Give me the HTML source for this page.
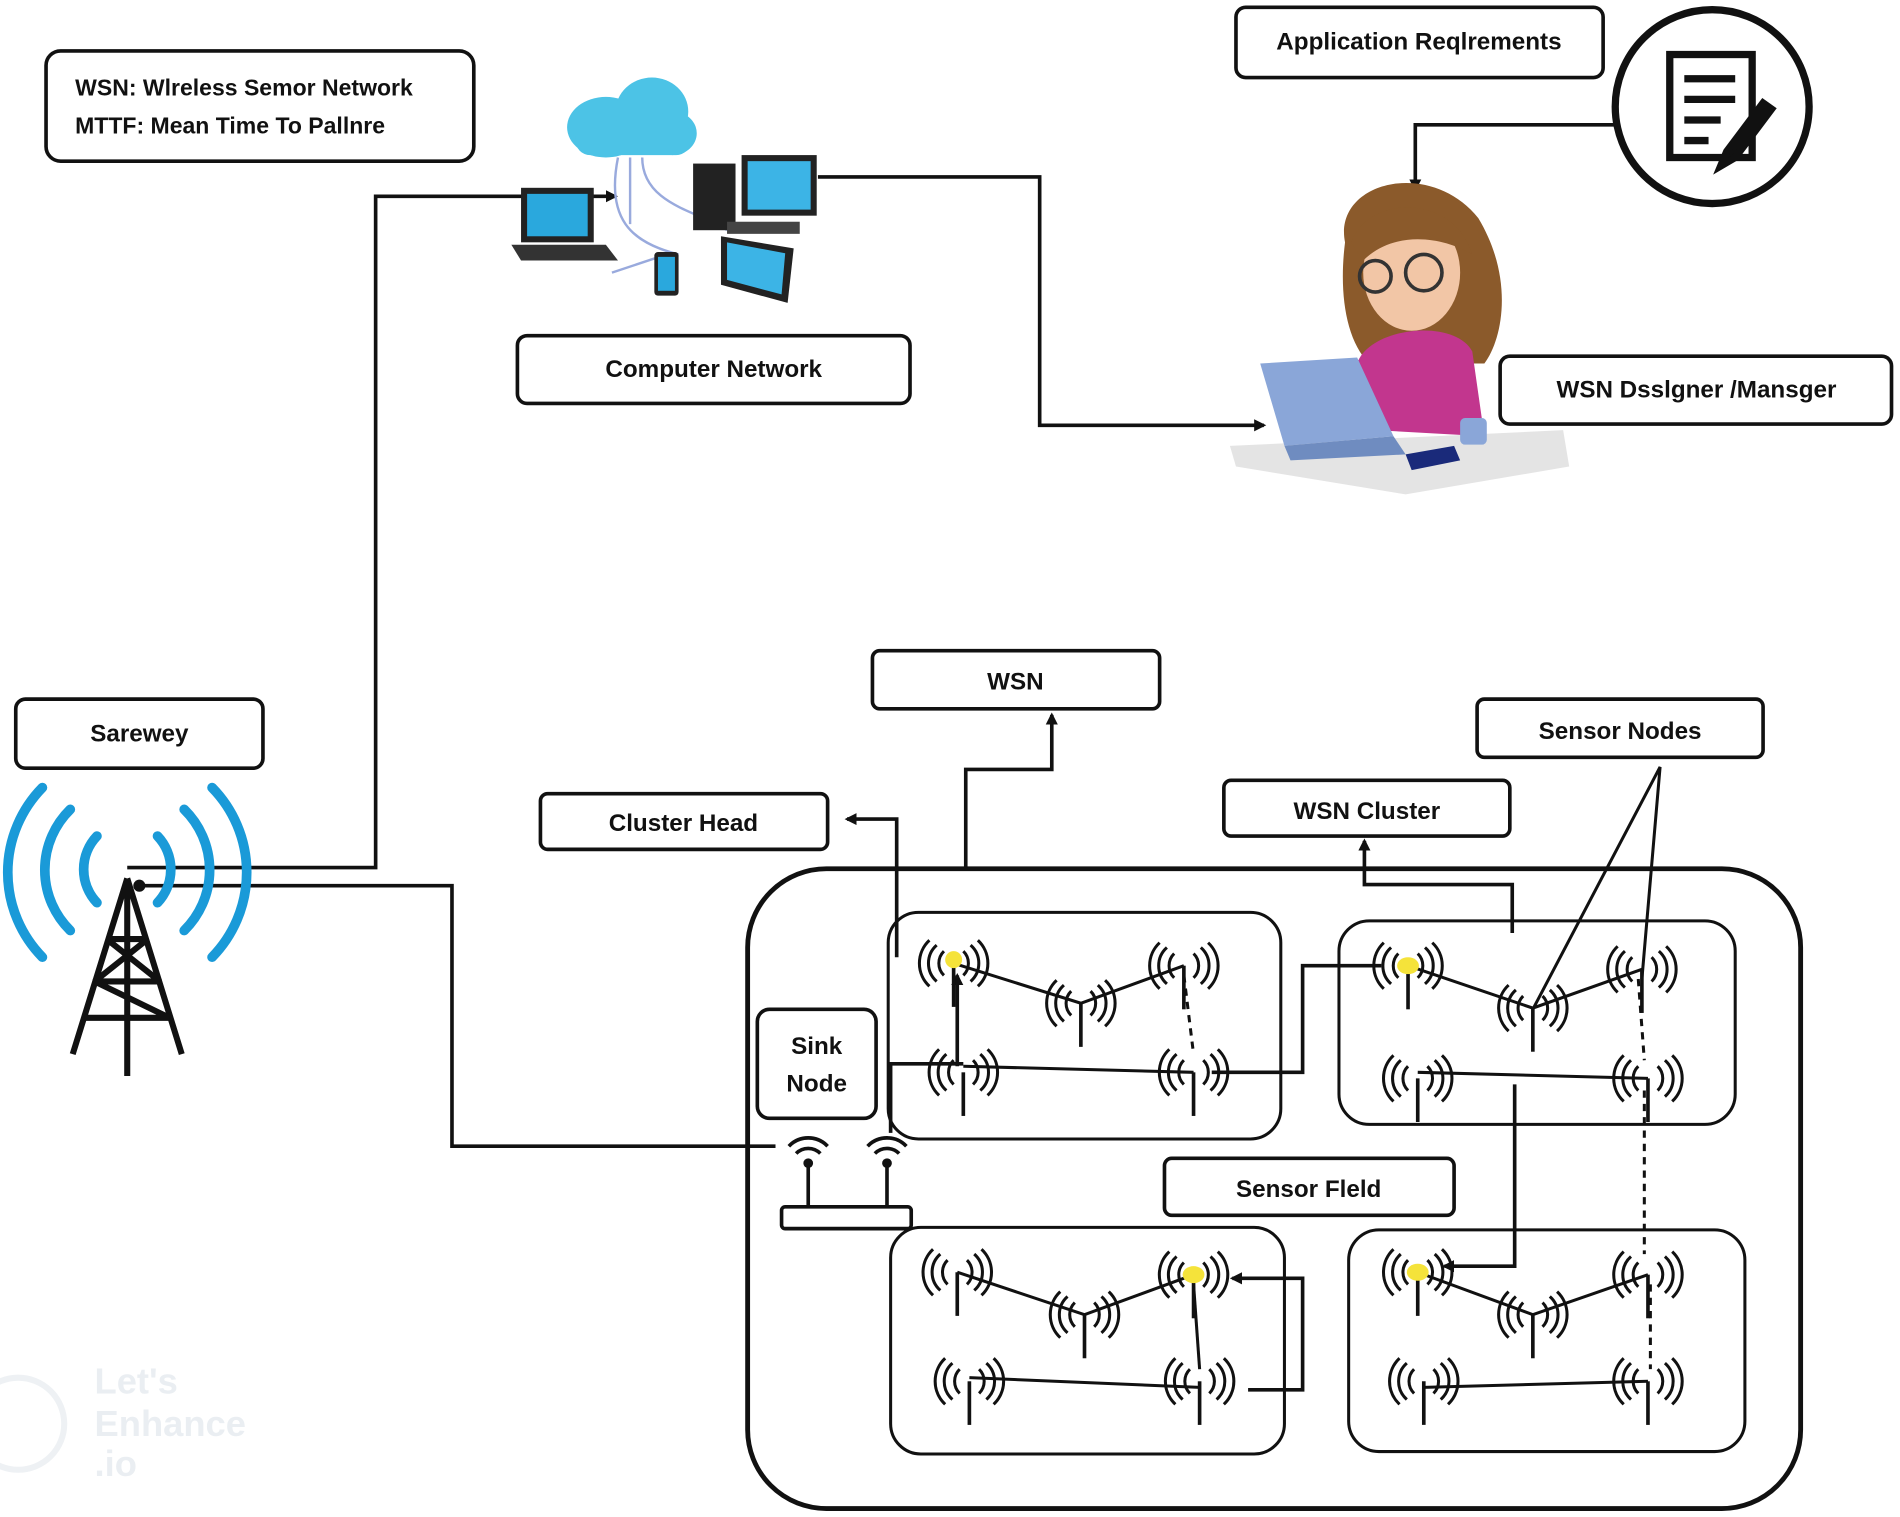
<!DOCTYPE html>
<html><head><meta charset="utf-8"><style>
html,body{margin:0;padding:0;background:#fff;}
svg{display:block}
text{font-family:"Liberation Sans",sans-serif;font-weight:bold;fill:#111;}
</style></head><body>
<svg width="1900" height="1517" viewBox="0 0 1568 1252" preserveAspectRatio="none" xmlns="http://www.w3.org/2000/svg">
<defs>
<marker id="ar" markerWidth="10" markerHeight="10" refX="8" refY="5" orient="auto" markerUnits="userSpaceOnUse"><path d="M0,0 L10,5 L0,10 z" fill="#111"/></marker>
<g id="sn">
<line x1="0" y1="0" x2="0" y2="36" stroke="#111" stroke-width="3"/>
<path d="M-8,-10 A14,14 0 0 0 -8,10 M-14,-15 A20,20 0 0 0 -14,15 M-20,-19 A26,26 0 0 0 -20,19" fill="none" stroke="#111" stroke-width="2.5"/>
<path d="M8,-10 A14,14 0 0 1 8,10 M14,-15 A20,20 0 0 1 14,15 M20,-19 A26,26 0 0 1 20,19" fill="none" stroke="#111" stroke-width="2.5"/>
</g>
</defs>
<rect width="1568" height="1252" fill="#fff"/>
<g fill="none" stroke="#111" stroke-width="3">
<rect x="38" y="42" width="353" height="91" rx="12"/>
<rect x="1020" y="6" width="303" height="58" rx="8"/>
<circle cx="1413" cy="88" r="80" stroke-width="6"/>
<rect x="427" y="277" width="324" height="56" rx="8"/>
<rect x="1238" y="294" width="323" height="56" rx="8"/>
<rect x="13" y="577" width="204" height="57" rx="8"/>
<rect x="720" y="537" width="237" height="48" rx="6"/>
<rect x="446" y="655" width="237" height="46" rx="6"/>
<rect x="1010" y="644" width="236" height="46" rx="6"/>
<rect x="1219" y="577" width="236" height="48" rx="6"/>
<rect x="617" y="717" width="869" height="528" rx="65" stroke-width="4"/>
<rect x="733" y="753" width="324" height="187" rx="25" stroke-width="2.5"/>
<rect x="1105" y="760" width="327" height="168" rx="25" stroke-width="2.5"/>
<rect x="735" y="1013" width="325" height="187" rx="25" stroke-width="2.5"/>
<rect x="1113" y="1015" width="327" height="183" rx="25" stroke-width="2.5"/>
<rect x="625" y="833" width="98" height="90" rx="10"/>
<rect x="961" y="956" width="239" height="47" rx="6"/>
</g>
<!-- connectors -->
<g fill="none" stroke="#111" stroke-width="3">
<path d="M1335,103 H1168 V156" marker-end="url(#ar)"/>
<path d="M675,146 H858 V351 H1043" marker-end="url(#ar)"/>
<path d="M105,716 H310 V162 H508" marker-end="url(#ar)"/>
<path d="M115,731 H373 V946 H640"/>
<path d="M797,716 V635 H868 V590" marker-end="url(#ar)"/>
<path d="M740,790 V676 H699" marker-end="url(#ar)"/>
<path d="M1248,770 V730 H1126 V694" marker-end="url(#ar)"/>
<path d="M1265,833 L1370,633 L1355,808" stroke-width="2.5"/>
<path d="M735,935 V878 H795" />
<path d="M790,880 V805" marker-end="url(#ar)"/>
<path d="M1000,885 H1075 V797 H1140"/>
<path d="M1250,895 V1045 H1192" marker-end="url(#ar)"/>
<path d="M1030,1147 H1075 V1055 H1017" marker-end="url(#ar)"/>
</g>
<g fill="none" stroke="#111" stroke-width="2.5">
<path d="M787,795 L892,828 L977,797"/><path d="M795,880 L985,885"/>
<path d="M1162,797 L1265,832 L1355,800"/><path d="M1170,885 L1360,890"/>
<path d="M790,1050 L895,1085 L985,1052"/><path d="M800,1137 L990,1145"/>
<path d="M1170,1050 L1265,1085 L1360,1052"/><path d="M1175,1145 L1360,1140"/>
<path d="M977,805 L985,870" stroke-dasharray="6,5"/>
<path d="M1352,808 L1357,875" stroke-dasharray="6,5"/>
<path d="M1357,900 V1035 M1362,1060 V1130" stroke-dasharray="6,5"/>
<path d="M985,1060 L990,1130"/>
</g>
<!-- sensor nodes -->
<g>
<use href="#sn" x="787" y="795"/><use href="#sn" x="892" y="828"/><use href="#sn" x="977" y="797"/><use href="#sn" x="795" y="885"/><use href="#sn" x="985" y="885"/>
<use href="#sn" x="1162" y="797"/><use href="#sn" x="1265" y="832"/><use href="#sn" x="1355" y="800"/><use href="#sn" x="1170" y="890"/><use href="#sn" x="1360" y="890"/>
<use href="#sn" x="790" y="1050"/><use href="#sn" x="895" y="1085"/><use href="#sn" x="985" y="1052"/><use href="#sn" x="800" y="1140"/><use href="#sn" x="990" y="1140"/>
<use href="#sn" x="1170" y="1050"/><use href="#sn" x="1265" y="1085"/><use href="#sn" x="1360" y="1052"/><use href="#sn" x="1175" y="1140"/><use href="#sn" x="1360" y="1140"/>
</g>
<g fill="#f5e33a"><circle cx="787" cy="792" r="7"/><ellipse cx="1162" cy="797" rx="9" ry="7"/><ellipse cx="985" cy="1052" rx="9" ry="7"/><ellipse cx="1170" cy="1050" rx="9" ry="7"/></g>
<!-- router -->
<g stroke="#111" fill="none" stroke-width="3">
<rect x="645" y="996" width="107" height="18" rx="3" fill="#fff"/>
<line x1="667" y1="996" x2="667" y2="960"/><line x1="732" y1="996" x2="732" y2="960"/>
<path d="M657,952 A14,14 0 0 1 677,952 M651,946 A22,22 0 0 1 683,946 M722,952 A14,14 0 0 1 742,952 M716,946 A22,22 0 0 1 748,946"/>
</g>
<g fill="#111"><circle cx="667" cy="960" r="4"/><circle cx="732" cy="960" r="4"/></g>
<!-- tower -->
<g fill="none" stroke="#1a9ad8" stroke-width="8" stroke-linecap="round">
<path d="M80,690 A40,40 0 0 0 80,745 M130,690 A40,40 0 0 1 130,745"/>
<path d="M58,668 A70,70 0 0 0 58,768 M152,668 A70,70 0 0 1 152,768"/>
<path d="M35,650 A100,100 0 0 0 35,790 M175,650 A100,100 0 0 1 175,790"/>
</g>
<g fill="none" stroke="#111" stroke-width="5">
<path d="M105,725 L60,870 M105,725 L150,870 M105,725 V888"/>
<path d="M88,775 H122 M78,810 H132 M70,840 H140 M88,775 L132,810 M122,775 L78,810 M78,810 L140,840"/>
</g>
<circle cx="115" cy="731" r="5" fill="#111"/>
<!-- computer network icon -->
<g>
<ellipse cx="500" cy="105" rx="32" ry="25" fill="#4cc3e6"/><ellipse cx="538" cy="92" rx="30" ry="28" fill="#4cc3e6"/><ellipse cx="555" cy="110" rx="20" ry="18" fill="#4cc3e6"/><rect x="475" y="100" width="95" height="28" rx="12" fill="#4cc3e6"/>
<path d="M520,130 V185 M530,130 C530,170 580,175 600,190 M510,130 C500,180 520,200 560,210 M505,225 L550,210" stroke="#9ad" stroke-width="2" fill="none"/>
<rect x="430" y="155" width="60" height="45" fill="#222"/><rect x="435" y="160" width="50" height="35" fill="#2aa8dd"/><path d="M422,202 H500 L510,215 H430 z" fill="#333"/>
<rect x="572" y="135" width="35" height="55" fill="#222"/>
<rect x="612" y="128" width="62" height="50" fill="#222"/><rect x="617" y="133" width="52" height="40" fill="#3cb4e6"/><rect x="600" y="183" width="60" height="10" fill="#444"/>
<rect x="540" y="208" width="20" height="36" rx="3" fill="#222"/><rect x="543" y="212" width="14" height="28" fill="#2aa8dd"/>
<path d="M595,195 L655,205 L650,250 L595,235 z" fill="#222"/><path d="M600,200 L648,209 L645,243 L600,231 z" fill="#3cb4e6"/>
</g>
<!-- doc icon -->
<g fill="none" stroke="#111" stroke-width="6">
<rect x="1378" y="45" width="68" height="85"/>
<path d="M1390,65 H1432 M1390,82 H1432 M1390,99 H1420 M1390,116 H1410"/>
<path d="M1455,85 L1425,125 L1420,137 L1432,130 L1462,90 z" fill="#111"/>
</g>
<!-- designer -->
<g>
<path d="M1015,368 L1290,355 L1295,385 L1160,408 L1020,385 z" fill="#e4e4e4"/>
<path d="M1110,200 C1100,150 1180,130 1220,180 C1250,230 1240,280 1225,300 L1130,300 C1110,280 1105,240 1110,200 z" fill="#8b5a2b"/>
<ellipse cx="1165" cy="225" rx="40" ry="48" fill="#f2c6a6"/>
<path d="M1115,200 C1130,160 1200,160 1215,210 C1190,195 1150,190 1125,215 z" fill="#8b5a2b"/>
<circle cx="1135" cy="228" r="13" fill="none" stroke="#333" stroke-width="3"/><circle cx="1175" cy="225" r="15" fill="none" stroke="#333" stroke-width="3"/>
<path d="M1120,300 C1130,270 1200,262 1215,290 L1225,360 L1135,355 z" fill="#c2368e"/>
<path d="M1040,300 L1120,295 L1150,360 L1060,368 z" fill="#8aa6d8"/><path d="M1060,368 L1150,360 L1160,375 L1065,380 z" fill="#6f8cc0"/>
<rect x="1205" y="345" width="22" height="22" rx="4" fill="#8aa6d8"/>
<path d="M1160,375 L1200,368 L1205,380 L1165,388 z" fill="#1a2a7a"/>
</g>
<!-- labels -->
<g font-size="19">
<text x="62" y="79" font-weight="bold">WSN: Wlreless Semor Network</text>
<text x="62" y="110">MTTF: Mean Time To Pallnre</text>
</g>
<g font-size="20" text-anchor="middle">
<text x="1171" y="41">Application Reqlrements</text>
<text x="589" y="311">Computer Network</text>
<text x="1400" y="328">WSN Dsslgner /Mansger</text>
<text x="115" y="612">Sarewey</text>
<text x="838" y="569">WSN</text>
<text x="564" y="686">Cluster Head</text>
<text x="1128" y="676">WSN Cluster</text>
<text x="1337" y="610">Sensor Nodes</text>
<text x="674" y="870">Sink</text>
<text x="674" y="901">Node</text>
<text x="1080" y="988">Sensor Fleld</text>
</g>
<g font-size="30" fill="#e8eef2" style="fill:#e9eef2">
<text x="78" y="1150" style="fill:#eaeef2">Let's</text><text x="78" y="1185" style="fill:#eaeef2">Enhance</text><text x="78" y="1218" style="fill:#eaeef2">.io</text>
</g>
<circle cx="15" cy="1175" r="38" fill="none" stroke="#eef1f4" stroke-width="5"/>
</svg>
</body></html>
